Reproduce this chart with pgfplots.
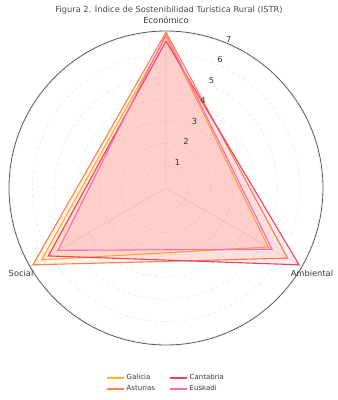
\documentclass[border=0pt]{standalone}
\usepackage{fontspec}
\setmainfont{DejaVu Sans}
\usepackage{pgfplots}
\usepgfplotslibrary{polar}
\pgfplotsset{compat=1.18}

\definecolor{cGal}{RGB}{255,180,40}
\definecolor{cAst}{RGB}{255,127,70}
\definecolor{cCan}{RGB}{238,64,96}
\definecolor{cEus}{RGB}{255,105,180}
\definecolor{txt}{RGB}{55,55,55}
\definecolor{ttl}{RGB}{75,75,75}

\begin{document}
\begin{tikzpicture}
\path[use as bounding box] (0pt,0pt) rectangle (338pt,400pt);
\node[text=ttl, font=\fontsize{8.3}{10}\selectfont] at (169pt,390pt)
  {Figura 2. Índice de Sostenibilidad Turística Rural (ISTR)};
\begin{polaraxis}[
  at={(166pt,212pt)}, anchor=center,
  width=314pt, height=314pt, scale only axis,
  xmin=0, xmax=360, ymin=0, ymax=7.05,
  xtick={90,210,330}, xticklabels={},
  ytick={1,2,3,4,5,6,7}, yticklabels={},
  major tick length=0pt,
  xmajorgrids, ymajorgrids,
  x grid style={gray!25, line width=0.5pt},
  y grid style={gray!20, line width=0.5pt, dashed},
  x axis line style={black!65, line width=0.8pt},
  y axis line style={draw=none},
  clip=false,
  legend columns=2, legend cell align=left,
  legend style={at={(0.5,-0.081)}, anchor=north, draw=none, fill=none,
    font=\fontsize{7}{8.5}\selectfont,
    /tikz/every even column/.append style={column sep=12pt}},
]
% Galicia
\addplot[draw=cGal, line width=1.1pt, fill=cGal, fill opacity=0.1, forget plot]
  coordinates {(90,6.8) (330,5.3) (210,6.45) (90,6.8)};
% Asturias
\addplot[draw=cAst, line width=1.1pt, fill=cAst, fill opacity=0.1, forget plot]
  coordinates {(90,7.0) (330,6.3) (210,6.9) (90,7.0)};
% Cantabria
\addplot[draw=cCan, line width=1.1pt, fill=cCan, fill opacity=0.1, forget plot]
  coordinates {(90,6.6) (330,6.9) (210,6.1) (90,6.6)};
% Euskadi
\addplot[draw=cEus, line width=1.1pt, fill=cEus, fill opacity=0.1, forget plot]
  coordinates {(90,6.9) (330,5.5) (210,5.6) (90,6.9)};

% legend, filled column by column
\addlegendimage{line legend, cGal, line width=1.5pt}
\addlegendentry{\textcolor{txt}{Galicia}}
\addlegendimage{line legend, cCan, line width=1.5pt}
\addlegendentry{\textcolor{txt}{Cantabria}}
\addlegendimage{line legend, cAst, line width=1.5pt}
\addlegendentry{\textcolor{txt}{Asturias}}
\addlegendimage{line legend, cEus, line width=1.5pt}
\addlegendentry{\textcolor{txt}{Euskadi}}

% dimension labels
\node[text=txt, font=\fontsize{8.3}{10}\selectfont, anchor=base]
  at (axis cs:90,7.05) [yshift=8pt] {Económico};
\node[text=txt, font=\fontsize{8.3}{10}\selectfont, anchor=center]
  at (axis cs:210,7.05) [xshift=-9pt, yshift=-6.5pt] {Social};
\node[text=txt, font=\fontsize{8.3}{10}\selectfont, anchor=center]
  at (axis cs:330,7.05) [xshift=10pt, yshift=-6.5pt] {Ambiental};

% radial scale labels
\pgfplotsinvokeforeach{1,...,7}{
  \node[text=txt, font=\fontsize{8.3}{10}\selectfont, anchor=center]
    at (axis cs:67.5,#1) [xshift=3pt, yshift=5pt] {#1};
}
\end{polaraxis}
\end{tikzpicture}
\end{document}
